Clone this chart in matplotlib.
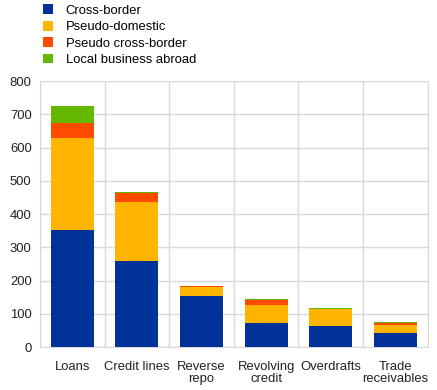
import matplotlib
matplotlib.use("Agg")
import matplotlib.pyplot as plt
from matplotlib.patches import Patch
import numpy as np

categories = ["Loans", "Credit lines", "Reverse\nrepo", "Revolving\ncredit", "Overdrafts", "Trade\nreceivables"]
cross_border = [353, 259, 154, 72, 63, 42]
pseudo_domestic = [277, 178, 27, 55, 52, 24]
pseudo_cross_border = [45, 27, 3, 16, 0, 6]
local_abroad = [51, 3, 1, 2, 2, 3]

series = [
    ("Cross-border", cross_border, "#003299"),
    ("Pseudo-domestic", pseudo_domestic, "#FFB400"),
    ("Pseudo cross-border", pseudo_cross_border, "#FF4B00"),
    ("Local business abroad", local_abroad, "#65B800"),
]

plt.rcParams["font.family"] = ["Liberation Sans", "DejaVu Sans"]
plt.rcParams["font.size"] = 9.4

fig = plt.figure(figsize=(4.37, 3.9), dpi=100)
ax = fig.add_axes([0.0915, 0.110, 0.887, 0.682])

x = np.arange(len(categories))
bottom = np.zeros(len(categories))
for name, vals, color in series:
    ax.bar(x, vals, width=0.665, bottom=bottom, color=color, zorder=3)
    bottom += np.array(vals)

ax.set_xlim(-0.5, len(categories) - 0.5)
ax.set_ylim(0, 800)
ax.set_yticks(range(0, 801, 100))
ax.set_xticks(x)
ax.set_xticklabels(categories, linespacing=1.05)
ax.set_xticks(np.arange(len(categories) + 1) - 0.5, minor=True)
ax.grid(axis="y", which="major", color="#d9d9d9", linewidth=1, zorder=0)
ax.grid(axis="x", which="minor", color="#d9d9d9", linewidth=1, zorder=0)
ax.tick_params(axis="both", which="both", length=0, labelsize=9.4, colors="#222222")
ax.tick_params(axis="x", pad=10)
ax.tick_params(axis="y", pad=6)
for sp in ax.spines.values():
    sp.set_color("#d9d9d9")

handles = [Patch(facecolor=c, label=n) for n, _, c in series]
fig.legend(handles=handles, loc="upper left", bbox_to_anchor=(43 / 437, 1 - 4.5 / 390),
           frameon=False, borderpad=0, borderaxespad=0,
           handlelength=0.78, handleheight=0.78, handletextpad=0.95,
           labelspacing=0.3, fontsize=9.4)

fig.savefig("out.png", dpi=100)
plt.close(fig)
